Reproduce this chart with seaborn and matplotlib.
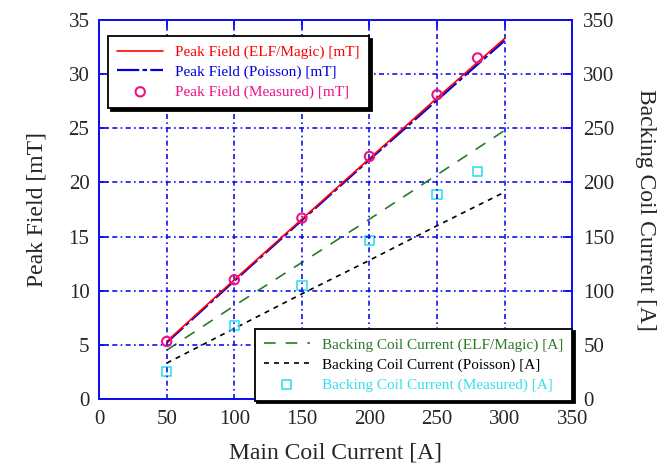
import numpy as np
import pandas as pd
import matplotlib
matplotlib.use("Agg")
import matplotlib.pyplot as plt
import seaborn as sns

# du lieu doc tu hinh
main_current = [50, 100, 150, 200, 250, 300]
peak_elf = [5.3, 11.0, 16.6, 22.2, 27.8, 33.3]
peak_poisson = [5.2, 10.9, 16.5, 22.1, 27.6, 33.1]
meas_current = [50, 100, 150, 200, 250, 280]
peak_meas = [5.3, 11.0, 16.7, 22.4, 28.1, 31.5]

backing_elf = [45, 86, 126, 166, 207, 248]
backing_poisson = [33, 65, 97, 128, 160, 191]
backing_meas = [25, 68, 105, 146, 189, 210]

sns.set_style("white")
plt.rcParams["font.family"] = ["Liberation Serif", "DejaVu Serif"]

blue = "#1010ee"
fig = plt.figure(figsize=(6.7, 4.67), dpi=100)
ax = fig.add_axes([0.148, 0.146, 0.706, 0.811])
ax2 = ax.twinx()

sns.lineplot(x=main_current, y=peak_poisson, ax=ax, color="#0000dd", lw=1.6,
             label="Peak Field (Poisson) [mT]", zorder=3)
ax.lines[-1].set_dashes((10, 1.5, 2, 1.5))
sns.lineplot(x=main_current, y=peak_elf, ax=ax, color="red", lw=1.2,
             label="Peak Field (ELF/Magic) [mT]", zorder=4)
sns.scatterplot(x=meas_current, y=peak_meas, ax=ax, marker="o", s=45,
                facecolor="none", edgecolor="#ee1188", linewidth=1.5,
                label="Peak Field (Measured) [mT]", zorder=5)

sns.lineplot(x=main_current, y=backing_elf, ax=ax2, color="#2a7a2a", lw=1.2,
             label="Backing Coil Current (ELF/Magic) [A]", zorder=3)
ax2.lines[-1].set_dashes((7, 6))
sns.lineplot(x=main_current, y=backing_poisson, ax=ax2, color="black", lw=1.2,
             label="Backing Coil Current (Poisson) [A]", zorder=3)
ax2.lines[-1].set_dashes((3, 3))
sns.scatterplot(x=meas_current, y=backing_meas, ax=ax2, marker="s", s=45,
                facecolor="none", edgecolor="#33e0f0", linewidth=1.2,
                label="Backing Coil Current (Measured) [A]", zorder=5)

ax.set_xlim(0, 350)
ax.set_ylim(0, 35)
ax2.set_ylim(0, 350)
ax.set_xticks(np.arange(0, 351, 50))
ax.set_yticks(np.arange(0, 36, 5))
ax2.set_yticks(np.arange(0, 351, 50))

ax.grid(True, color=blue, lw=1.2, linestyle=(0, (3, 2, 1, 2)))
for a in (ax, ax2):
    for sp in a.spines.values():
        sp.set_color(blue)
        sp.set_linewidth(1.3)
ax.tick_params(axis="both", direction="in", length=6.5, width=1.3, color=blue,
               labelsize=15, top=True, right=False, pad=7)
ax.tick_params(axis="x", pad=8)
ax2.tick_params(axis="y", direction="in", length=6.5, width=1.3, color=blue,
                labelsize=15, pad=8)
# nhich so 0 ben phai len mot chut cho khoi de len 350
ax2.get_yticklabels()[0].set_va("center_baseline")

ax.set_xlabel("Main Coil Current [A]", fontsize=17, labelpad=10)
ax.set_ylabel("Peak Field [mT]", fontsize=17, labelpad=15)
ax2.set_ylabel("Backing Coil Current [A]", fontsize=17, rotation=270, labelpad=30)

# chu thich 1
h, l = ax.get_legend_handles_labels()
h2, l2 = ax2.get_legend_handles_labels()
ax2.get_legend().remove()
order = [1, 0, 2]
leg1 = ax.legend([h[i] for i in order], [l[i] for i in order], loc="upper left",
                 bbox_to_anchor=(0.019, 0.958), fontsize=11, fancybox=False,
                 edgecolor="black", framealpha=1, handlelength=3.0,
                 shadow={"color": "black", "alpha": 1}, borderpad=0.6,
                 labelspacing=0.4, borderaxespad=0)
leg1.get_frame().set_linewidth(1.3)
for t, c in zip(leg1.get_texts(), ["red", "#0000dd", "#ee1188"]):
    t.set_color(c)
ax.add_artist(leg1)

# chu thich 2
leg2 = ax.legend(h2, l2, loc="lower right", bbox_to_anchor=(1.0, -0.005), fontsize=11,
                 fancybox=False, edgecolor="black", framealpha=1, handlelength=3.0,
                 shadow={"color": "black", "alpha": 1}, borderpad=0.6,
                 labelspacing=0.4, borderaxespad=0)
leg2.get_frame().set_linewidth(1.3)
for t, c in zip(leg2.get_texts(), ["#2a7a2a", "black", "#33e0f0"]):
    t.set_color(c)
ax.set_zorder(ax2.get_zorder() + 1)
ax.patch.set_visible(False)

fig.savefig("out.png", dpi=100)
